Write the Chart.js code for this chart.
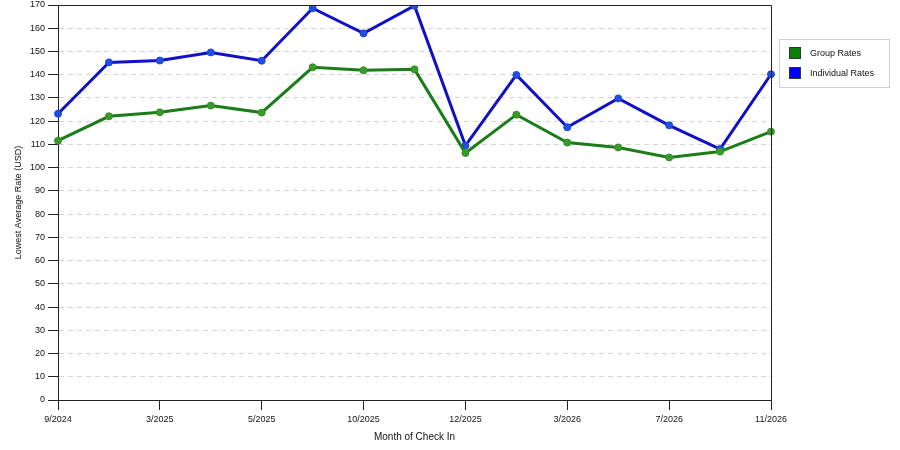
<!DOCTYPE html>
<html>
<head>
<meta charset="utf-8">
<script src="https://cdn.jsdelivr.net/npm/chart.js@4"></script>
<style>
  html, body { margin: 0; padding: 0; background: #fff; }
  #wrap { width: 900px; height: 450px; }
</style>
</head>
<body>
<div id="wrap"><canvas id="rateChart"></canvas></div>
<script>
const months = ['9/2024', '', '3/2025', '', '5/2025', '', '10/2025', '',
                '12/2025', '', '3/2026', '', '7/2026', '', '11/2026'];
const groupRates = [111.6, 122.1, 123.8, 126.7, 123.7, 143.2, 141.9, 142.3,
                    106.3, 122.8, 110.8, 108.7, 104.4, 106.9, 115.5];
const individualRates = [123.2, 145.3, 146.1, 149.6, 146.0, 168.6, 157.8, 169.7,
                         109.5, 139.9, 117.4, 129.8, 118.2, 108.0, 140.2];
const seriesNames = ['Group Rates', 'Individual Rates'];
const yTicks = { min: 0, max: 170, step: 10 };

const legendColors = ['#0a800a', '#0000ff'];

// box around the plot and the little legend on the right
const framePlugin = {
  id: 'frame',
  afterDraw(chart) {
    const ctx = chart.ctx;
    const a = chart.chartArea;
    ctx.save();
    ctx.strokeStyle = '#222';
    ctx.lineWidth = 1;
    ctx.beginPath();
    ctx.moveTo(a.left, a.top + 0.5);
    ctx.lineTo(a.right + 0.5, a.top + 0.5);
    ctx.lineTo(a.right + 0.5, a.bottom);
    ctx.stroke();

    // legend
    const lx = 779, ly = 39, lw = 110, lh = 48;
    ctx.strokeStyle = '#cfcfcf';
    ctx.strokeRect(lx + 0.5, ly + 0.5, lw, lh);
    ctx.font = '9px "Liberation Sans", Arial, sans-serif';
    ctx.textBaseline = 'middle';
    chart.data.datasets.forEach((ds, i) => {
      const sy = ly + 8 + i * 20;
      ctx.fillStyle = legendColors[i];
      ctx.fillRect(lx + 10, sy, 12, 12);
      ctx.strokeStyle = '#333';
      ctx.strokeRect(lx + 10.5, sy + 0.5, 11, 11);
      ctx.fillStyle = '#111';
      ctx.fillText(ds.label, lx + 31, sy + 7);
    });
    ctx.restore();
  }
};

new Chart(document.getElementById('rateChart'), {
  type: 'line',
  data: {
    labels: months,
    datasets: [
      {
        label: seriesNames[0],
        data: groupRates,
        borderColor: '#1a7d1a',
        backgroundColor: '#3c9a2c',
        pointBackgroundColor: '#3c9a2c',
        pointBorderColor: '#2f8f25',
        borderWidth: 3,
        pointRadius: 3.5,
        pointBorderWidth: 1,
        tension: 0
      },
      {
        label: seriesNames[1],
        data: individualRates,
        borderColor: '#1010c8',
        backgroundColor: '#1f4fe6',
        pointBackgroundColor: '#1f4fe6',
        pointBorderColor: '#1a44d8',
        borderWidth: 3,
        pointRadius: 3.5,
        pointBorderWidth: 1,
        tension: 0
      }
    ]
  },
  options: {
    responsive: true,
    maintainAspectRatio: false,
    animation: false,
    layout: { padding: { top: 0, right: 129, bottom: 0, left: 0 } },
    plugins: {
      legend: { display: false },
      tooltip: { enabled: false }
    },
    scales: {
      x: {
        offset: false,
        afterFit(scale) { scale.height = 50; },
        grid: {
          drawOnChartArea: false,
          drawTicks: true,
          tickLength: 10,
          tickColor: ctx => (ctx.index % 2 === 0 ? '#222' : 'rgba(0,0,0,0)')
        },
        border: { color: '#222', width: 1 },
        ticks: {
          autoSkip: false,
          maxRotation: 0,
          padding: 4,
          color: '#111',
          font: { family: '"Liberation Sans", Arial, sans-serif', size: 9 }
        },
        title: {
          display: true,
          text: 'Month of Check In',
          color: '#111',
          font: { family: '"Liberation Sans", Arial, sans-serif', size: 10 },
          padding: { top: 0, bottom: 7 }
        }
      },
      y: {
        min: yTicks.min,
        max: yTicks.max,
        afterFit(scale) {
          scale.width = 58;
          scale.paddingTop = 5;
          scale.paddingBottom = 0;
        },
        grid: {
          color: '#d4d4d4',
          tickColor: '#222',
          tickLength: 10,
          tickBorderDash: []
        },
        border: { color: '#222', width: 1, dash: [5, 4] },
        ticks: {
          stepSize: yTicks.step,
          padding: 3,
          color: '#111',
          font: { family: '"Liberation Sans", Arial, sans-serif', size: 9 }
        },
        title: {
          display: true,
          text: 'Lowest Average Rate (USD)',
          color: '#111',
          font: { family: '"Liberation Sans", Arial, sans-serif', size: 9 },
          padding: { top: 13, bottom: 0 }
        }
      }
    }
  },
  plugins: [framePlugin]
});
</script>
</body>
</html>
